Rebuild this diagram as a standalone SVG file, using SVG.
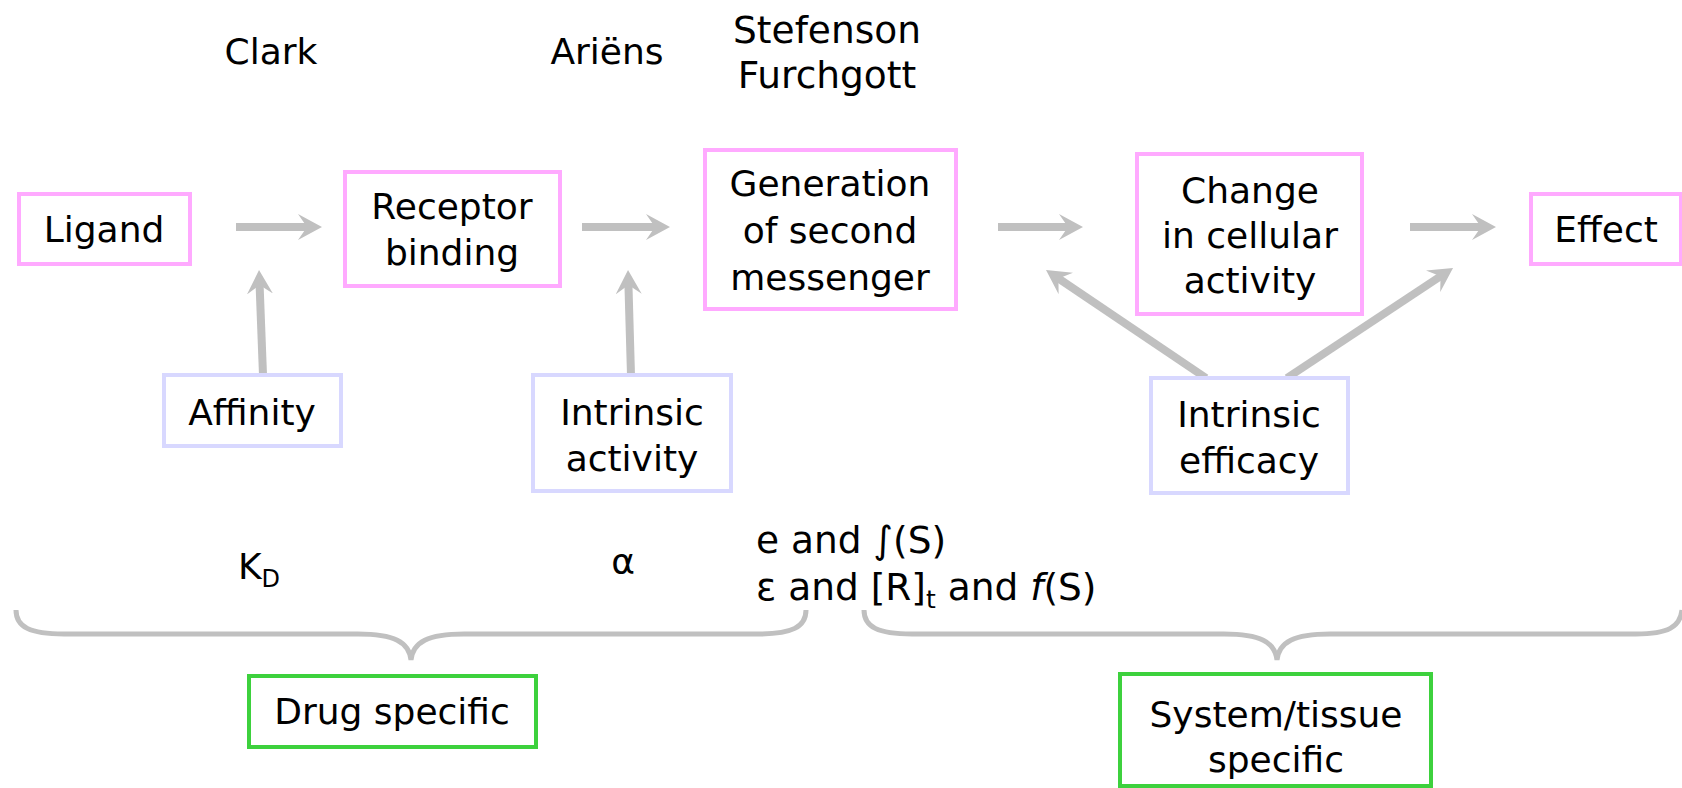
<svg xmlns="http://www.w3.org/2000/svg" width="1682" height="788" viewBox="0 0 1682 788">
<style>
text{font-family:"DejaVu Sans","Verdana",sans-serif;font-size:36px;fill:#000;text-anchor:middle}
.pink{fill:#fff;stroke:#ffaaff;stroke-width:4}
.blue{fill:#fff;stroke:#d8d8ff;stroke-width:4}
.green{fill:#fff;stroke:#3dd13d;stroke-width:4}
.arr{stroke:#c0c0c0;stroke-width:8;fill:none;marker-end:url(#ah)}
.brace{stroke:#c0c0c0;stroke-width:5;fill:none}
.l{text-anchor:start}
.big{font-size:37.5px}
</style>
<defs>
<marker id="ah" viewBox="0 0 24 26" refX="14" refY="13" markerWidth="24" markerHeight="26" markerUnits="userSpaceOnUse" orient="auto">
<path d="M0,0 L24,13 L0,26 L9,13 Z" fill="#c0c0c0"/>
</marker>
</defs>
<rect width="1682" height="788" fill="#fff"/>
<g id="labels-top">
<text x="271" y="64">Clark</text>
<text x="607" y="64">Ariëns</text>
<text x="827" y="43" class="big">Stefenson</text>
<text x="827" y="88" class="big">Furchgott</text>
</g>
<g id="connectors">
<line class="arr" x1="236" y1="227" x2="312" y2="227"/>
<line class="arr" x1="582" y1="227" x2="660" y2="227"/>
<line class="arr" x1="998" y1="227" x2="1073" y2="227"/>
<line class="arr" x1="1410" y1="227" x2="1486" y2="227"/>
<line class="arr" x1="263" y1="375" x2="259.4" y2="280"/>
<line class="arr" x1="631" y1="375" x2="628.3" y2="280"/>
<line class="arr" x1="1206" y1="378" x2="1054.3" y2="275.6"/>
<line class="arr" x1="1287" y1="378" x2="1444.7" y2="273.5"/>
</g>
<g id="ligand"><rect class="pink" x="19" y="194" width="171" height="70"/><text x="104" y="242">Ligand</text></g>
<g id="receptor"><rect class="pink" x="345" y="172" width="215" height="114"/><text x="452" y="219">Receptor</text><text x="452" y="265">binding</text></g>
<g id="generation"><rect class="pink" x="705" y="150" width="251" height="159"/><text x="830" y="196">Generation</text><text x="830" y="243">of second</text><text x="830" y="290">messenger</text></g>
<g id="change"><rect class="pink" x="1137" y="154" width="225" height="160"/><text x="1250" y="203">Change</text><text x="1250" y="248">in cellular</text><text x="1250" y="293">activity</text></g>
<g id="effect"><rect class="pink" x="1531" y="194" width="150" height="70"/><text x="1606" y="242">Effect</text></g>
<g id="affinity"><rect class="blue" x="164" y="375" width="177" height="71"/><text x="252" y="425">Affinity</text></g>
<g id="intrinsic-activity"><rect class="blue" x="533" y="375" width="198" height="116"/><text x="632" y="425">Intrinsic</text><text x="632" y="471">activity</text></g>
<g id="intrinsic-efficacy"><rect class="blue" x="1151" y="378" width="197" height="115"/><text x="1249" y="427">Intrinsic</text><text x="1249" y="473">efficacy</text></g>
<g id="symbols">
<text x="238" y="579" class="l">K<tspan font-size="24" dy="8">D</tspan></text>
<text x="623" y="574" font-family="Liberation Serif, serif">α</text>
<text x="756" y="553" class="l big">e and ∫(S)</text>
<text x="756" y="600" class="l big">ε and [R]<tspan font-size="25" dy="8">t</tspan><tspan dy="-8"> and </tspan><tspan font-style="italic">f</tspan>(S)</text>
</g>
<g id="braces">
<path class="brace" d="M16,610 C16,627 30,634 64,634 L358,634 C394,634 409,642 411,660 C413,642 428,634 464,634 L758,634 C792,634 806,627 806,610"/>
<path class="brace" d="M864,610 C864,627 878,634 912,634 L1224,634 C1260,634 1275,642 1277,660 C1279,642 1294,634 1330,634 L1636,634 C1668,634 1680,627 1682,610"/>
</g>
<g id="drug-specific"><rect class="green" x="249" y="676" width="287" height="71"/><text x="392" y="724">Drug specific</text></g>
<g id="system-specific"><rect class="green" x="1120" y="674" width="311" height="112"/><text x="1276" y="727">System/tissue</text><text x="1276" y="772">specific</text></g>
</svg>
